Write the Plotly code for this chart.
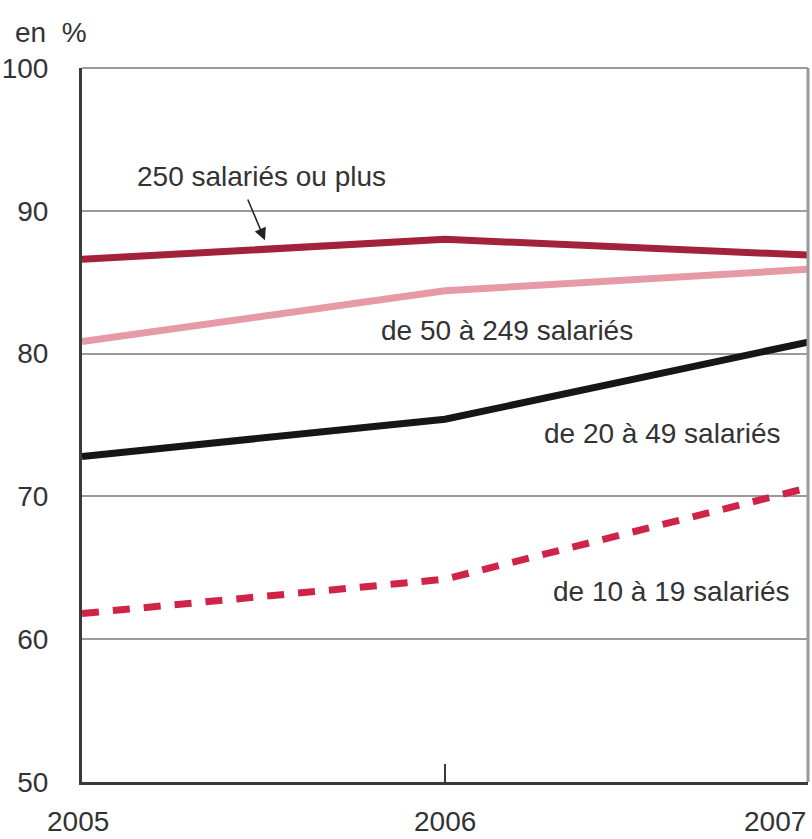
import plotly.graph_objects as go

years = [2005, 2006, 2007]
s250 = [86.6, 88.0, 86.9]
s50 = [80.85, 84.4, 85.9]
s20 = [72.8, 75.4, 80.8]
s10 = [61.8, 64.2, 70.6]

y_ticks = [50, 60, 70, 80, 90, 100]
x_labels = ["2005", "2006", "2007"]

FONT = "Liberation Sans, Arial, sans-serif"
FS = 28
TXT = "#333333"

fig = go.Figure()
fig.add_trace(go.Scatter(x=years, y=s250, mode="lines", line=dict(color="#a2223c", width=7), name="250+"))
fig.add_trace(go.Scatter(x=years, y=s50, mode="lines", line=dict(color="#e59aa6", width=7), name="50-249"))
fig.add_trace(go.Scatter(x=years, y=s20, mode="lines", line=dict(color="#161616", width=7), name="20-49"))
fig.add_trace(go.Scatter(x=years, y=s10, mode="lines", line=dict(color="#cf2447", width=7, dash="17px,14px"), name="10-19"))

fig.update_layout(
    width=812, height=839,
    margin=dict(l=82, r=4, t=68, b=57),
    paper_bgcolor="white", plot_bgcolor="white",
    showlegend=False,
    font=dict(family=FONT, size=FS, color=TXT),
    xaxis=dict(range=[2005, 2007], showgrid=False, zeroline=False, automargin=False,
               showline=True, linecolor="#3a3a3a", linewidth=3,
               ticks="inside", tickvals=[2006], ticklen=18, tickwidth=2, tickcolor="#3a3a3a",
               showticklabels=False),
    yaxis=dict(range=[50, 100], tickvals=y_ticks, showgrid=True, gridcolor="#9a9a9a", gridwidth=2,
               zeroline=False, showline=True, linecolor="#3a3a3a", linewidth=3, automargin=False,
               ticks="", ticklabelstandoff=25, tickfont=dict(family=FONT, size=FS, color=TXT)),
)

# right border and top border
fig.add_shape(type="line", xref="paper", yref="paper", x0=1, x1=1, y0=0, y1=1,
              line=dict(color="#9a9a9a", width=3))
fig.add_shape(type="line", xref="paper", yref="paper", x0=0, x1=1, y0=1, y1=1,
              line=dict(color="#9a9a9a", width=2))

# x tick labels
anchors = ["center", "center", "right"]
shifts = [-4, 0, 0]
for yr, lab, anc, sh in zip(years, x_labels, anchors, shifts):
    fig.add_annotation(x=yr, y=0, xref="x", yref="paper", text=lab, showarrow=False,
                       xanchor=anc, yanchor="middle", yshift=-39, xshift=sh,
                       font=dict(family=FONT, size=FS, color=TXT))

fig.add_annotation(x=0, y=1, xref="paper", yref="paper", text="en  %", showarrow=False,
                   xanchor="left", xshift=-69, yanchor="middle", yshift=36,
                   font=dict(family=FONT, size=FS, color=TXT))

# series labels
fig.add_annotation(x=2005.504, y=87.94, xref="x", yref="y", ax=2005.455, ay=90.9, axref="x", ayref="y",
                   text="", showarrow=True, arrowhead=2, arrowsize=1.6, arrowwidth=1.5, arrowcolor="#222")
fig.add_annotation(x=2005.494, y=92.37, xref="x", yref="y", text="250 salariés ou plus", showarrow=False,
                   font=dict(family=FONT, size=FS, color=TXT))
fig.add_annotation(x=2006.171, y=81.6, xref="x", yref="y", text="de 50 à 249 salariés", showarrow=False,
                   font=dict(family=FONT, size=FS, color=TXT))
fig.add_annotation(x=2006.599, y=74.44, xref="x", yref="y", text="de 20 à 49 salariés", showarrow=False,
                   font=dict(family=FONT, size=FS, color=TXT))
fig.add_annotation(x=2006.624, y=63.36, xref="x", yref="y", text="de 10 à 19 salariés", showarrow=False,
                   font=dict(family=FONT, size=FS, color=TXT))

fig.write_html("out.html", config={"displayModeBar": False},
               post_script="document.body.style.margin='0';document.body.style.overflow='hidden';")
